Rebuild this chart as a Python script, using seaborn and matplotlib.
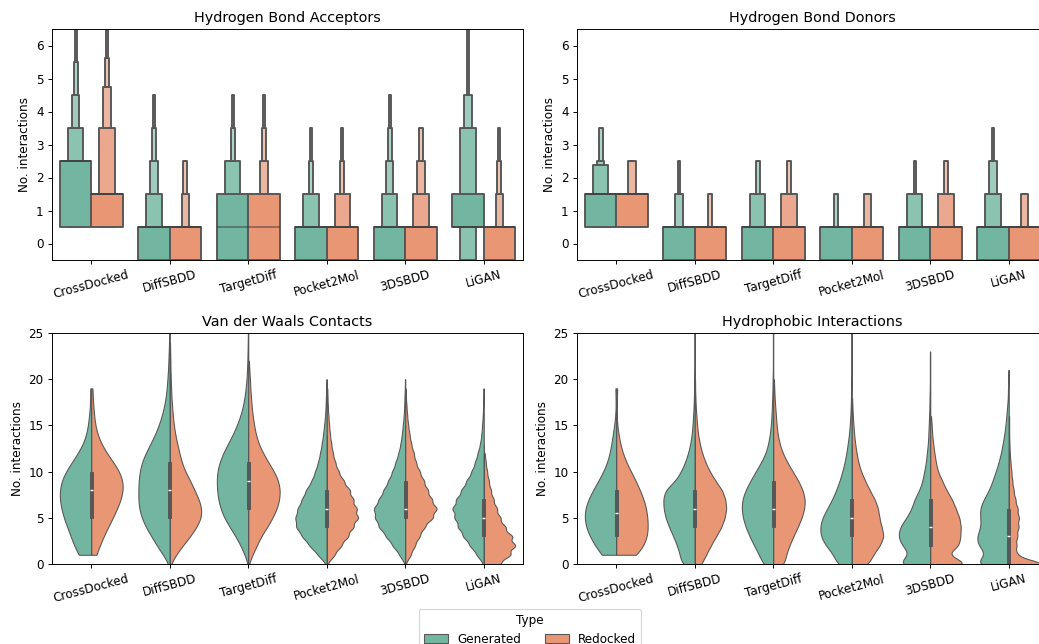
import numpy as np
import pandas as pd
import matplotlib
matplotlib.use("Agg")
import matplotlib.pyplot as plt
import seaborn as sns

methods = ["CrossDocked", "DiffSBDD", "TargetDiff", "Pocket2Mol", "3DSBDD", "LiGAN"]
types = ["Generated", "Redocked"]

# ---------------- top row: letter-value plots ----------------
# number of samples at each plotted level (levels start at -0.5, step 1)
hb_levels = [-0.5, 0.5, 1.5, 2.5, 3.5, 4.5, 5.5, 6.5, 7.5, 8.5, 9.5]

acceptors_generated = [
    [0, 300, 150, 320, 110, 60, 32, 10, 6, 6, 6],        # CrossDocked
    [400, 400, 110, 50, 20, 20],                         # DiffSBDD
    [300, 300, 250, 100, 25, 25],                        # TargetDiff
    [400, 400, 150, 25, 25],                             # Pocket2Mol
    [430, 380, 110, 40, 20, 20],                         # 3DSBDD
    [200, 320, 260, 80, 50, 60, 5, 5, 6, 7, 7],          # LiGAN
]
acceptors_redocked = [
    [0, 400, 360, 80, 50, 37, 31, 12, 8, 6, 5],
    [400, 500, 60, 40],
    [300, 350, 250, 60, 20, 20],
    [400, 420, 130, 25, 25],
    [400, 400, 110, 50, 40],
    [450, 450, 50, 25, 25],
]
donors_generated = [
    [0, 400, 476, 74, 52],
    [450, 460, 65, 25],
    [400, 400, 150, 50],
    [480, 470, 50],
    [400, 400, 175, 25],
    [400, 400, 100, 75, 25],
]
donors_redocked = [
    [0, 400, 500, 100],
    [450, 500, 50],
    [420, 400, 130, 50],
    [450, 450, 100],
    [400, 400, 150, 50],
    [450, 450, 100],
]

# ---------------- bottom row: split violins ----------------
# number of samples with 0, 1, 2, ... interactions
count_levels = list(range(40))

vdw_generated = [
    [0, 7, 5, 6, 8, 9, 10, 10, 11, 10, 9, 6, 4, 2, 1, 1, 1, 0, 0, 1],
    [20, 200, 390, 550, 720, 840, 920, 940, 940, 930, 900, 840, 720, 580, 440, 330, 240, 170, 120, 90, 70, 50, 40, 30, 20, 20, 10, 10, 10],
    [8, 105, 225, 375, 545, 710, 820, 885, 920, 930, 915, 850, 740, 600, 455, 335, 235, 160, 110, 75, 50, 35, 25, 20, 15, 10, 10, 10],
    [40, 540, 1040, 1480, 1840, 1880, 1740, 1480, 1240, 900, 700, 520, 400, 300, 220, 160, 100, 70, 50, 30, 20],
    [30, 380, 820, 1250, 1700, 1950, 2050, 1700, 1400, 1100, 840, 630, 440, 310, 220, 160, 100, 70, 50, 30, 20],
    [30, 420, 820, 1220, 1520, 1720, 1860, 1620, 1320, 1020, 720, 520, 360, 220, 140, 100, 60, 40, 20, 20],
]
vdw_redocked = [
    [0, 2, 3, 4, 6, 8, 9, 11, 12, 12, 11, 8, 5, 3, 2, 1, 1, 1, 0, 1],
    [20, 180, 380, 600, 780, 920, 930, 850, 720, 600, 450, 350, 280, 220, 160, 120, 90, 70, 50, 40, 30, 20, 20, 10, 10],
    [10, 120, 250, 370, 550, 700, 830, 900, 920, 870, 750, 580, 430, 300, 220, 170, 130, 100, 80, 60, 50, 30, 20],
    [60, 690, 1290, 1890, 2340, 2790, 2640, 2340, 2040, 1500, 1050, 750, 540, 400, 290, 210, 150, 100, 70, 50],
    [30, 500, 880, 1300, 1750, 2500, 2900, 2400, 2050, 1700, 1320, 970, 780, 540, 390, 270, 180, 120, 60, 30],
    [750, 1185, 1410, 1260, 960, 735, 585, 435, 315, 225, 150, 90, 45],
]
hyd_generated = [
    [0, 8, 7, 10, 12, 12, 12, 11, 8, 7, 4, 3, 2, 2, 1, 1, 0, 0, 0, 1],
    [480, 540, 640, 780, 930, 1060, 1130, 1150, 1080, 700, 500, 350, 240, 160, 110, 80, 60, 40, 30, 20, 15, 10, 10, 10, 10, 10, 10, 10],
    [310, 420, 570, 700, 820, 900, 940, 920, 820, 680, 520, 360, 220, 150, 100, 70, 50, 40, 30, 20, 20, 10, 10, 10, 10, 10, 10, 10],
    [460, 530, 780, 930, 950, 880, 730, 580, 460, 360, 280, 210, 160, 120, 80, 60, 40, 30, 20, 20, 10, 10, 10, 10, 10, 10, 10],
    [990, 470, 750, 850, 800, 620, 480, 420, 280, 200, 160, 110, 90, 60, 50, 40, 30, 20, 20, 10, 10, 10, 10, 10],
    [980, 480, 780, 800, 680, 700, 720, 620, 480, 400, 320, 250, 190, 150, 110, 80, 60, 40, 20, 20, 10, 10],
]
hyd_redocked = [
    [0, 11, 9, 11, 12, 9, 12, 9, 8, 7, 5, 3, 2, 1, 1, 0, 0, 0, 0, 1],
    [200, 340, 480, 640, 800, 900, 950, 920, 820, 620, 450, 320, 220, 150, 100, 70, 50, 30, 20, 10, 10],
    [340, 380, 480, 600, 730, 850, 930, 950, 880, 750, 580, 420, 280, 190, 130, 100, 80, 60, 40, 30, 20],
    [500, 620, 820, 940, 870, 800, 770, 670, 520, 390, 270, 190, 140, 100, 70, 50, 30, 20, 10],
    [1110, 410, 780, 800, 820, 780, 680, 580, 430, 320, 200, 150, 110, 80, 50, 40, 20],
    [10000, 2250, 2125, 2375, 2750, 2875, 2500, 1875, 1375, 1000, 750, 500, 300, 200, 125, 125, 125],
]


def long_table(levels, generated, redocked):
    parts = []
    for method, gen, red in zip(methods, generated, redocked):
        for kind, counts in zip(types, (gen, red)):
            vals = np.repeat(np.asarray(levels[:len(counts)], dtype=float), counts)
            parts.append(pd.DataFrame({"method": method, "Type": kind, "value": vals}))
    return pd.concat(parts, ignore_index=True)


acc_df = long_table(hb_levels, acceptors_generated, acceptors_redocked)
don_df = long_table(hb_levels, donors_generated, donors_redocked)
vdw_df = long_table(count_levels, vdw_generated, vdw_redocked)
hyd_df = long_table(count_levels, hyd_generated, hyd_redocked)

DPI = 86
fig = plt.figure(figsize=(1039 / DPI, 644 / DPI), dpi=DPI)
W, H = 471 / 1039, 231 / 644
xl, xr = 52 / 1039, 577 / 1039
yt, yb = (644 - 260) / 644, (644 - 564) / 644
ax_acc = fig.add_axes([xl, yt, W, H])
ax_don = fig.add_axes([xr, yt, W, H])
ax_vdw = fig.add_axes([xl, yb, W, H])
ax_hyd = fig.add_axes([xr, yb, W, H])

edge = "#575757"


def boxen_panel(ax, table, title):
    sns.boxenplot(data=table, x="method", y="value", hue="Type", order=methods,
                  hue_order=types, palette="Set2", linewidth=1.6, linecolor=edge,
                  showfliers=False, line_kws=dict(color=".15", alpha=0.45, linewidth=1.5),
                  legend=False, ax=ax)
    ax.set_ylim(-0.5, 6.5)
    ax.set_yticks(range(7))
    ax.set_title(title)
    ax.set_xlabel("")
    ax.set_ylabel("No. interactions")
    ax.tick_params(axis="x", labelrotation=15)


def violin_panel(ax, table, title, legend=False):
    sns.violinplot(data=table, x="method", y="value", hue="Type", order=methods,
                   hue_order=types, palette="Set2", split=True, inner=None, cut=0,
                   density_norm="width", linewidth=0.9, linecolor=edge,
                   legend=legend, ax=ax)
    sns.boxplot(data=table, x="method", y="value", order=methods, width=0.035,
                color=edge, linecolor=edge, linewidth=0.8, saturation=1,
                showfliers=False, showcaps=False, whis=1.5,
                medianprops=dict(color="white", linewidth=1.2), ax=ax)
    ax.set_ylim(0, 25)
    ax.set_xlim(-0.5, 5.5)
    ax.set_title(title)
    ax.set_xlabel("")
    ax.set_ylabel("No. interactions")
    ax.tick_params(axis="x", labelrotation=15)


boxen_panel(ax_acc, acc_df, "Hydrogen Bond Acceptors")
boxen_panel(ax_don, don_df, "Hydrogen Bond Donors")
violin_panel(ax_vdw, vdw_df, "Van der Waals Contacts", legend=True)
violin_panel(ax_hyd, hyd_df, "Hydrophobic Interactions")

leg = ax_vdw.get_legend()
handles = leg.legend_handles
labels = [t.get_text() for t in leg.get_texts()]
leg.remove()
fig.legend(handles, labels, title="Type", loc="upper center",
           bbox_to_anchor=(530 / 1039, 1 - 603 / 644), ncol=2)

fig.savefig("out.png", dpi=DPI)
